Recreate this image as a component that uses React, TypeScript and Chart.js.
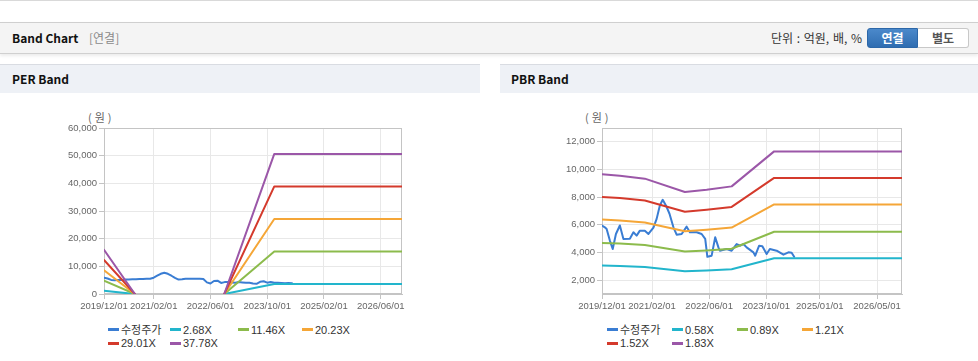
import React, { useEffect, useRef } from "react";
import { Chart, registerables } from "chart.js";

Chart.register(...registerables);

// ---------- data ----------
const perTickMonths = [0, 14, 30, 46, 62, 78];
const perTickLabels = ["2019/12/01", "2021/02/01", "2022/06/01", "2023/10/01", "2025/02/01", "2026/06/01"];
const pbrTickMonths = [0, 14, 30, 46, 61, 77];
const pbrTickLabels = ["2019/12/01", "2021/02/01", "2022/06/01", "2023/10/01", "2025/01/01", "2026/05/01"];

const perYTicks = [0, 10000, 20000, 30000, 40000, 50000, 60000];
const pbrYTicks = [2000, 4000, 6000, 8000, 10000, 12000];

const perSeriesNames = ["수정주가", "2.68X", "11.46X", "20.23X", "29.01X", "37.78X"];
const pbrSeriesNames = ["수정주가", "0.58X", "0.89X", "1.21X", "1.52X", "1.83X"];

// PER price (months since 2019/12)
const perPriceMonths = [0, 1, 2, 3, 4, 5, 6, 7, 8, 9, 10, 11, 12, 13, 14, 15, 16, 17, 18, 19, 20, 21, 22, 23, 24, 25, 26, 27, 28, 29, 30, 31, 32, 33, 34, 35, 36, 37, 38, 39, 40, 41, 42, 43, 44, 45, 46, 47, 48, 49, 50, 51, 52, 53];
const perPriceValues = [5900, 5600, 5100, 5000, 5100, 5100, 5200, 5200, 5300, 5300, 5400, 5400, 5500, 5500, 5900, 6600, 7300, 7700, 7300, 6600, 5800, 5200, 5300, 5500, 5500, 5500, 5500, 5500, 5400, 4200, 3800, 4700, 4800, 4000, 4300, 4300, 4200, 4100, 4300, 4200, 4100, 4100, 3800, 3700, 4400, 4600, 4100, 4300, 4100, 4100, 4000, 3900, 4000, 3900];

// PER bands
const perBandMonths = [0, 8.7, 20, 33.9, 48, 84];
const perBand268 = [1135, 0, null, 0, 3591, 3591];
const perBand1146 = [4853, 0, null, 0, 15356, 15356];
const perBand2023 = [8567, 0, null, 0, 27108, 27108];
const perBand2901 = [12286, 0, null, 0, 38873, 38873];
const perBand3778 = [16000, 0, null, 0, 50625, 50625];

// PBR price
const pbrPriceMonths = [0, 0.8, 1.3, 2.2, 3.0, 3.9, 5.0, 6.0, 7.8, 8.8, 9.7, 10.6, 12.0, 13.0, 14.4, 15.3, 16.2, 17.0, 17.9, 18.9, 20.0, 20.9, 22.3, 23.7, 24.6, 26.5, 27.9, 28.9, 29.5, 30.7, 31.7, 32.6, 33.0, 34.9, 36.3, 37.7, 38.7, 39.6, 40.5, 42.4, 42.9, 44.0, 44.9, 46.1, 47.0, 48.9, 50.8, 52.2, 53.1, 53.8];
const pbrPriceValues = [5950, 5820, 5700, 4860, 4250, 5340, 5950, 4980, 5000, 5460, 5220, 5580, 5580, 5340, 5800, 6430, 7400, 7810, 7400, 6800, 5820, 5290, 5340, 5870, 5460, 5460, 5340, 4980, 3690, 3770, 5100, 4370, 4130, 4250, 4130, 4610, 4490, 4610, 4370, 4010, 3770, 4490, 4450, 3890, 4250, 4130, 3840, 4010, 3980, 3690];

// PBR bands
const pbrBandMonths = [0, 5, 12, 23.2, 29.3, 36.3, 48.2, 84];
const pbrBand058 = [3060, 3028, 2960, 2652, 2706, 2783, 3584, 3584];
const pbrBand089 = [4695, 4646, 4542, 4070, 4153, 4270, 5500, 5500];
const pbrBand121 = [6383, 6316, 6175, 5533, 5646, 5806, 7478, 7478];
const pbrBand152 = [8018, 7934, 7757, 6951, 7092, 7293, 9394, 9394];
const pbrBand183 = [9653, 9553, 9338, 8369, 8539, 8780, 11309, 11309];

// ---------- styles ----------
const seriesColors = ["#3a7dd3", "#22b5cc", "#8cbb4c", "#f5a637", "#d43a2c", "#9b57a8"];
const FONT_LATIN = "'Liberation Sans', Arial, 'Noto Sans CJK KR', sans-serif";
const FONT_KR = "'Noto Sans CJK KR', 'Liberation Sans', sans-serif";

const boxPlugin = {
  id: "plotBox",
  beforeDatasetsDraw(chart: any) {
    const { ctx, chartArea: a } = chart;
    ctx.save();
    ctx.strokeStyle = "#c4c4c4";
    ctx.lineWidth = 1;
    ctx.strokeRect(Math.round(a.left) + 0.5, Math.round(a.top) + 0.5, Math.round(a.right - a.left) - 1, Math.round(a.bottom - a.top) - 1);
    ctx.restore();
  },
};

function makeDataset(label: string, color: string, xs: number[], ys: (number | null)[], order: number) {
  return {
    label,
    borderColor: color,
    backgroundColor: color,
    data: xs.map((x, i) => ({ x, y: ys[i] })),
    borderWidth: 2,
    pointRadius: 0,
    tension: 0,
    fill: false,
    order,
    borderJoinStyle: "round" as const,
    borderCapStyle: "round" as const,
  };
}

type BandProps = {
  left: number;
  width: number;
  yAxisWidth: number;
  rightPad: number;
  xTicks: number[];
  xLabels: string[];
  yMin: number;
  yMax: number;
  yTicks: number[];
  datasets: any[];
};

function BandCanvas(p: BandProps) {
  const ref = useRef<HTMLCanvasElement>(null);
  useEffect(() => {
    if (!ref.current) return;
    const tickFont = { family: FONT_LATIN, size: 9.5 };
    const chart = new Chart(ref.current, {
      type: "line",
      data: { datasets: p.datasets },
      plugins: [boxPlugin],
      options: {
        animation: false,
        responsive: false,
        maintainAspectRatio: false,
        layout: { padding: { left: 0, right: p.rightPad, top: 28, bottom: 0 } },
        plugins: { legend: { display: false }, tooltip: { enabled: false } },
        scales: {
          x: {
            type: "linear",
            min: 0,
            max: 84,
            afterBuildTicks: (s: any) => {
              s.ticks = p.xTicks.map((v) => ({ value: v }));
            },
            afterFit: (s: any) => {
              s.height = 21;
            },
            ticks: {
              autoSkip: false,
              maxRotation: 0,
              padding: 2,
              color: "#666",
              font: tickFont,
              callback: (_v: any, i: number) => p.xLabels[i],
            },
            grid: { color: "#e8e8e8", tickLength: 5, tickColor: "#c4c4c4" },
            border: { color: "#c4c4c4" },
          },
          y: {
            type: "linear",
            min: p.yMin,
            max: p.yMax,
            afterBuildTicks: (s: any) => {
              s.ticks = p.yTicks.map((v) => ({ value: v }));
            },
            afterFit: (s: any) => {
              s.width = p.yAxisWidth;
            },
            ticks: {
              padding: 2,
              color: "#666",
              font: tickFont,
              callback: (v: any) => Number(v).toLocaleString("en-US"),
            },
            grid: { color: "#e8e8e8", tickLength: 5, tickColor: "#c4c4c4" },
            border: { color: "#c4c4c4" },
          },
        },
      } as any,
    });
    return () => chart.destroy();
  }, []);
  return (
    <canvas
      ref={ref}
      width={p.width}
      height={215}
      style={{ position: "absolute", left: p.left, top: 100, width: p.width, height: 215 }}
    />
  );
}

function Legend({ names, cols }: { names: string[]; cols: number[] }) {
  const rows = [329.5, 343];
  return (
    <>
      {names.map((n, i) => (
        <div
          key={n}
          style={{
            position: "absolute",
            left: cols[i % 4],
            top: rows[Math.floor(i / 4)] - 8,
            height: 16,
            display: "flex",
            alignItems: "center",
            whiteSpace: "nowrap",
            fontFamily: FONT_LATIN,
            fontSize: 11,
            color: "#333",
          }}
        >
          <span style={{ display: "inline-block", width: 11, height: 3, background: seriesColors[i], marginRight: 2 }} />
          <span style={{ lineHeight: "16px" }}>{n}</span>
        </div>
      ))}
    </>
  );
}

export default function App() {
  const perDatasets = [
    makeDataset(perSeriesNames[0], seriesColors[0], perPriceMonths, perPriceValues, 5),
    makeDataset(perSeriesNames[1], seriesColors[1], perBandMonths, perBand268, 4),
    makeDataset(perSeriesNames[2], seriesColors[2], perBandMonths, perBand1146, 3),
    makeDataset(perSeriesNames[3], seriesColors[3], perBandMonths, perBand2023, 2),
    makeDataset(perSeriesNames[4], seriesColors[4], perBandMonths, perBand2901, 1),
    makeDataset(perSeriesNames[5], seriesColors[5], perBandMonths, perBand3778, 0),
  ];
  const pbrDatasets = [
    makeDataset(pbrSeriesNames[0], seriesColors[0], pbrPriceMonths, pbrPriceValues, 5),
    makeDataset(pbrSeriesNames[1], seriesColors[1], pbrBandMonths, pbrBand058, 4),
    makeDataset(pbrSeriesNames[2], seriesColors[2], pbrBandMonths, pbrBand089, 3),
    makeDataset(pbrSeriesNames[3], seriesColors[3], pbrBandMonths, pbrBand121, 2),
    makeDataset(pbrSeriesNames[4], seriesColors[4], pbrBandMonths, pbrBand152, 1),
    makeDataset(pbrSeriesNames[5], seriesColors[5], pbrBandMonths, pbrBand183, 0),
  ];

  const boldTitle: React.CSSProperties = { fontFamily: FONT_KR, fontWeight: 700, fontSize: 12, color: "#111" };
  const unitStyle: React.CSSProperties = { position: "absolute", top: 109, height: 16, lineHeight: "16px", fontFamily: FONT_KR, fontSize: 11, color: "#666", letterSpacing: 3, whiteSpace: "nowrap" };

  return (
    <div style={{ position: "fixed", left: 0, top: 0, width: 978, height: 361, background: "#fff", overflow: "hidden" }}>
      {/* top line */}
      <div style={{ position: "absolute", left: 0, top: 0, width: 978, height: 1, background: "#d9d9d9" }} />

      {/* header bar */}
      <div
        style={{
          position: "absolute",
          left: 0,
          top: 22,
          width: 978,
          height: 30,
          background: "#f4f4f4",
          borderTop: "1px solid #cfcfcf",
          borderBottom: "1px solid #d0d0d0",
          boxShadow: "0 2px 3px rgba(0,0,0,0.08)",
        }}
      >
        <div style={{ position: "absolute", left: 12, top: 0, height: 30, lineHeight: "30px", ...boldTitle }}>Band Chart</div>
        <div style={{ position: "absolute", left: 89, top: 0, height: 30, lineHeight: "30px", fontFamily: FONT_KR, fontSize: 12, color: "#8a8a8a" }}>[연결]</div>
        <div style={{ position: "absolute", right: 978 - 862, top: 0, height: 30, lineHeight: "30px", fontFamily: FONT_KR, fontSize: 12, color: "#333", whiteSpace: "nowrap", wordSpacing: 1 }}>단위 : 억원, 배, %</div>
        <div
          style={{
            position: "absolute",
            left: 867,
            top: 5,
            width: 51,
            height: 20,
            boxSizing: "border-box",
            background: "linear-gradient(#4b89cb, #2f6db1)",
            border: "1px solid #2c67a8",
            borderRadius: "3px 0 0 3px",
            color: "#fff",
            fontFamily: FONT_KR,
            fontWeight: 700,
            fontSize: 12,
            textAlign: "center",
            lineHeight: "18px",
          }}
        >
          연결
        </div>
        <div
          style={{
            position: "absolute",
            left: 918,
            top: 5,
            width: 51,
            height: 20,
            boxSizing: "border-box",
            background: "#fff",
            border: "1px solid #c8c8c8",
            borderLeft: "none",
            borderRadius: "0 3px 3px 0",
            color: "#555",
            fontFamily: FONT_KR,
            fontWeight: 700,
            fontSize: 12,
            textAlign: "center",
            lineHeight: "18px",
          }}
        >
          별도
        </div>
      </div>

      {/* panel headers */}
      <div style={{ position: "absolute", left: 0, top: 64, width: 480, height: 28, background: "#eef1f6", borderTop: "1px solid #d9dce2" }}>
        <div style={{ position: "absolute", left: 12, top: 0, height: 28, lineHeight: "28px", ...boldTitle }}>PER Band</div>
      </div>
      <div style={{ position: "absolute", left: 500, top: 64, width: 478, height: 28, background: "#eef1f6", borderTop: "1px solid #d9dce2" }}>
        <div style={{ position: "absolute", left: 11, top: 0, height: 28, lineHeight: "28px", ...boldTitle }}>PBR Band</div>
      </div>

      {/* unit labels */}
      <div style={{ ...unitStyle, left: 88 }}>(원)</div>
      <div style={{ ...unitStyle, left: 585 }}>(원)</div>

      <BandCanvas
        left={0}
        width={480}
        yAxisWidth={104}
        rightPad={78}
        xTicks={perTickMonths}
        xLabels={perTickLabels}
        yMin={0}
        yMax={60000}
        yTicks={perYTicks}
        datasets={perDatasets}
      />
      <BandCanvas
        left={500}
        width={478}
        yAxisWidth={102}
        rightPad={76}
        xTicks={pbrTickMonths}
        xLabels={pbrTickLabels}
        yMin={1000}
        yMax={13000}
        yTicks={pbrYTicks}
        datasets={pbrDatasets}
      />

      <Legend names={perSeriesNames} cols={[108, 170, 238, 302]} />
      <Legend names={pbrSeriesNames} cols={[607, 672, 737, 802]} />
    </div>
  );
}
